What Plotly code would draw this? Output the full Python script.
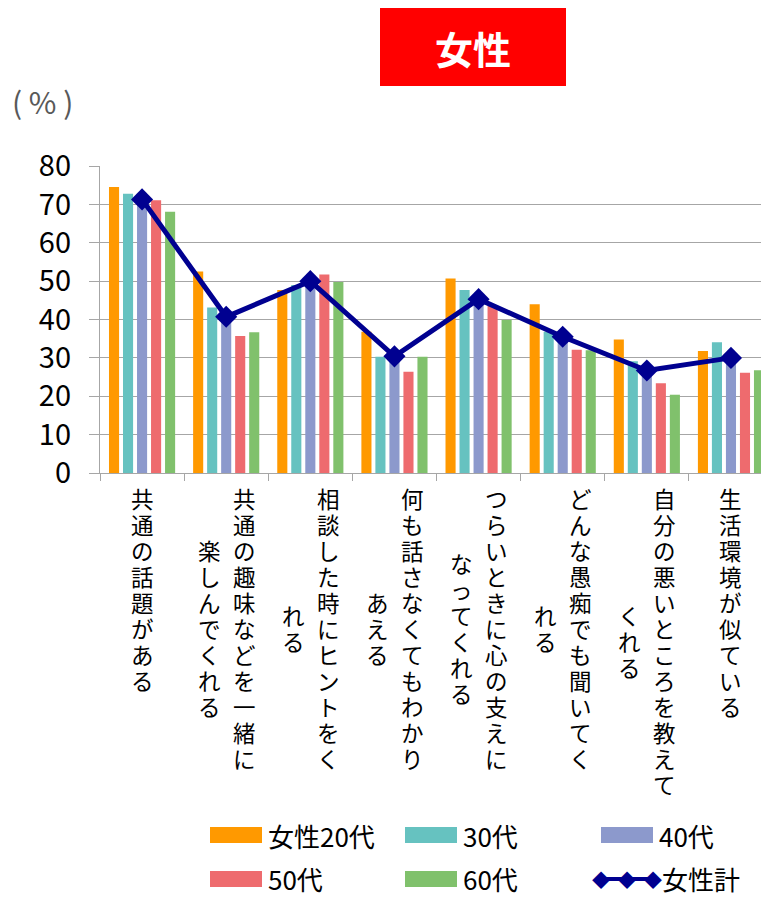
import plotly.graph_objects as go

# ---------------- data ----------------
categories = [
    "共通の話題がある",
    "共通の趣味などを一緒に楽しんでくれる",
    "相談した時にヒントをくれる",
    "何も話さなくてもわかりあえる",
    "つらいときに心の支えになってくれる",
    "どんな愚痴でも聞いてくれる",
    "自分の悪いところを教えてくれる",
    "生活環境が似ている",
]
# vertical label columns (right column first, as in vertical Japanese writing)
label_columns = [
    ["共通の話題がある"],
    ["共通の趣味などを一緒に", "楽しんでくれる"],
    ["相談した時にヒントをく", "れる"],
    ["何も話さなくてもわかり", "あえる"],
    ["つらいときに心の支えに", "なってくれる"],
    ["どんな愚痴でも聞いてく", "れる"],
    ["自分の悪いところを教えて", "くれる"],
    ["生活環境が似ている"],
]
series_names = ["女性20代", "30代", "40代", "50代", "60代"]
women_20s = [74.5, 52.5, 47.7, 36.8, 50.7, 44.0, 34.8, 31.8]
women_30s = [72.8, 43.1, 49.0, 30.3, 47.7, 36.8, 29.1, 34.1]
women_40s = [70.5, 40.0, 49.5, 30.0, 45.0, 35.0, 26.5, 29.5]
women_50s = [71.1, 35.7, 51.7, 26.4, 43.5, 32.1, 23.4, 26.1]
women_60s = [68.1, 36.7, 49.8, 30.3, 39.9, 32.0, 20.4, 26.8]
total_name = "女性計"
women_total = [71.3, 40.7, 50.0, 30.4, 45.3, 35.5, 26.7, 30.0]
y_ticks = [0, 10, 20, 30, 40, 50, 60, 70, 80]

# ---------------- style ----------------
OFF = 8  # page body margin of the browser
W, H = 769 - OFF, 897 - OFF
ML, MR, MT, MB = 100 - OFF, 0, 166 - OFF, 424
PW, PH = W - ML - MR, H - MT - MB
colors = ["#FF9900", "#66C2C0", "#8C99CC", "#EE6B6E", "#80C16C"]
line_color = "#000090"
FONT = "Noto Sans CJK JP"
LABEL_FONT = "Liberation Sans, Noto Sans CJK JP"
grid_color = "#A6A6A6"


def px_x(px):
    # page pixel -> paper fraction
    return (px - OFF - ML) / PW


def px_y(py):
    return (H - MB - (py - OFF)) / PH


fig = go.Figure()
all_series = [women_20s, women_30s, women_40s, women_50s, women_60s]
for name, vals, c in zip(series_names, all_series, colors):
    fig.add_trace(go.Bar(x=categories, y=vals, name=name, marker_color=c,
                         marker_line_width=0, showlegend=False))
fig.add_trace(go.Scatter(x=categories, y=women_total, name=total_name,
                         mode="lines+markers",
                         line=dict(color=line_color, width=5),
                         marker=dict(symbol="diamond", size=17, color=line_color),
                         showlegend=False))

annotations = []
shapes = []

# vertical category labels, one character per annotation
LFS = 22.5
pitch = 26
top_center = 500
plot_bottom = 473
for i, cols in enumerate(label_columns):
    nmax = max(len(c) for c in cols)
    xshifts = [0] if len(cols) == 1 else [18, -17]
    for col, xs in zip(cols, xshifts):
        off = (nmax - len(col)) / 2 * pitch
        for k, ch in enumerate(col):
            cy = top_center + off + k * pitch
            annotations.append(dict(
                xref="x", yref="paper", x=i, y=0, xshift=xs,
                yshift=-(cy - plot_bottom), text=ch, showarrow=False,
                xanchor="center", yanchor="middle", borderpad=0,
                font=dict(family=LABEL_FONT, size=LFS, color="#000000")))

# title box
shapes.append(dict(type="rect", xref="paper", yref="paper",
                   x0=px_x(380), x1=px_x(566), y0=px_y(86), y1=px_y(7),
                   fillcolor="#FF0000", line_width=0, layer="above"))
annotations.append(dict(xref="paper", yref="paper", x=px_x(473), y=px_y(47),
                        text="<b>女性</b>", showarrow=False,
                        xanchor="center", yanchor="middle",
                        font=dict(family=FONT, size=38, color="#FFFFFF")))
# unit label
annotations.append(dict(xref="paper", yref="paper", x=px_x(10), y=px_y(101),
                        text="( % )", showarrow=False,
                        xanchor="left", yanchor="middle",
                        font=dict(family=FONT, size=30, color="#595959")))

# legend (manual, Excel style)
legend_rows = [835, 879]
legend_cols = [210, 405, 601]
entries = [(series_names[0], colors[0]), (series_names[1], colors[1]),
           (series_names[2], colors[2]), (series_names[3], colors[3]),
           (series_names[4], colors[4]), (total_name, None)]
for idx, (name, c) in enumerate(entries):
    r, cidx = divmod(idx, 3)
    lx, ly = legend_cols[cidx], legend_rows[r]
    if c is not None:
        shapes.append(dict(type="rect", xref="paper", yref="paper",
                           x0=px_x(lx), x1=px_x(lx + 52),
                           y0=px_y(ly + 8), y1=px_y(ly - 8),
                           fillcolor=c, line_width=0))
        tx = lx + 56
    else:
        shapes.append(dict(type="line", xref="paper", yref="paper",
                           x0=px_x(lx), x1=px_x(lx + 52), y0=px_y(ly), y1=px_y(ly),
                           line=dict(color=line_color, width=4)))
        for dx in [0, 26, 52]:
            annotations.append(dict(xref="paper", yref="paper",
                                    x=px_x(lx + dx), y=px_y(ly), text="◆",
                                    showarrow=False, xanchor="center", yanchor="middle",
                                    font=dict(family=FONT, size=18, color=line_color)))
        tx = lx + 59
    annotations.append(dict(xref="paper", yref="paper", x=px_x(tx), y=px_y(ly),
                            text=name, showarrow=False, xanchor="left",
                            yanchor="middle",
                            font=dict(family=FONT, size=26, color="#000000")))

fig.update_layout(
    width=W, height=H,
    margin=dict(l=ML, r=MR, t=MT, b=MB, pad=0),
    paper_bgcolor="#FFFFFF", plot_bgcolor="#FFFFFF",
    barmode="group", bargap=0.167, bargroupgap=0.28,
    showlegend=False,
    font=dict(family=FONT, color="#000000"),
    annotations=annotations, shapes=shapes,
    xaxis=dict(type="category", range=[-0.5, 7.452], showticklabels=False,
               ticks="outside", tickson="boundaries", ticklen=7,
               tickcolor=grid_color, tickwidth=1.3,
               showline=True, linecolor=grid_color, linewidth=1.3,
               showgrid=False, fixedrange=True),
    yaxis=dict(range=[0, 80], tickvals=y_ticks, ticks="outside", ticklen=10,
               tickcolor=grid_color, tickwidth=1.3,
               showline=True, linecolor=grid_color, linewidth=1.3,
               showgrid=True, gridcolor=grid_color, gridwidth=1.3,
               zeroline=False, ticklabelstandoff=12,
               tickfont=dict(family=FONT, size=29, color="#000000")),
)

fig.write_html("out.html")
